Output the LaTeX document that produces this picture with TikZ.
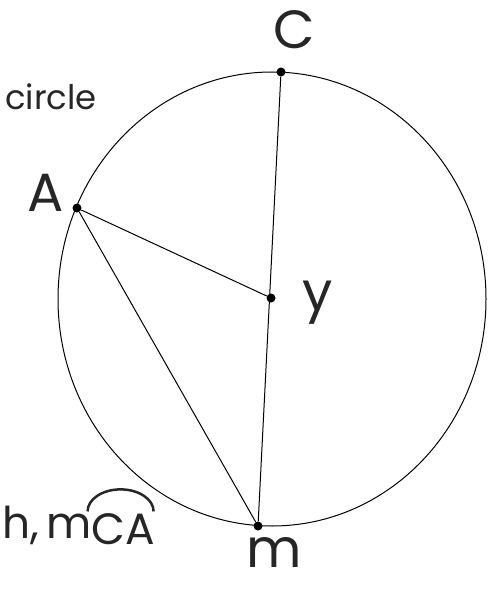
\documentclass[tikz,border=0pt]{standalone}
\usepackage{fontspec}
\setmainfont{Poppins}
\usetikzlibrary{positioning}
\tikzset{
  dot/.style={circle, fill=black, inner sep=0pt, minimum size=9bp},
  hand/.style={font=\fontsize{54}{54}\selectfont, text=black!85},
  note/.style={font=\fontsize{34}{36}\selectfont, text=black!85},
  chord/.style={line width=1bp},
}
\begin{document}
\begin{tikzpicture}[x=1bp,y=-1bp]
                    \useasboundingbox (0,0) rectangle (494,589);
                    \clip (0,0) rectangle (494,589);
                    % Circle
                    \draw[chord] (272,299) ellipse [x radius=214, y radius=227];
                    % Points
                    \node[dot] (C) at (281,72) {};
                    \node[dot] (A) at (77,208) {};
                    \node[dot] (Y) at (271,298) {};
                    \node[dot] (M) at (258,526) {};
                    % Chords
                    \draw[chord] (C) -- (M);
                    \draw[chord] (A) -- (Y);
                    \draw[chord] (A) -- (M);
                    % Labels
                    \node[hand] (Clab) at (294,30) {C};
                    \node[hand] (Alab) at (46,193) {A};
                    \node[hand] (Ylab) at (318,303) {y};
                    \node[hand] (Mlab) at (274,552) {m};
                    \node[note, anchor=east, inner sep=0pt] (circ) at (97,97) {circle};
                    % Arc measure
                    \node[hand, font=\fontsize{44}{44}\selectfont, anchor=south west, inner sep=0pt] (hm) at (2,545) {h,\,m};
                    \node[hand, font=\fontsize{44}{44}\selectfont, inner sep=0pt, right=0pt of hm.south east, anchor=south west] (ca) {CA};
                    \draw[line width=2.5bp, black!85] ([xshift=-4bp, yshift=2bp]ca.north west) arc[start angle=180, end angle=360, x radius=33, y radius=22];
\end{tikzpicture}
\end{document}
